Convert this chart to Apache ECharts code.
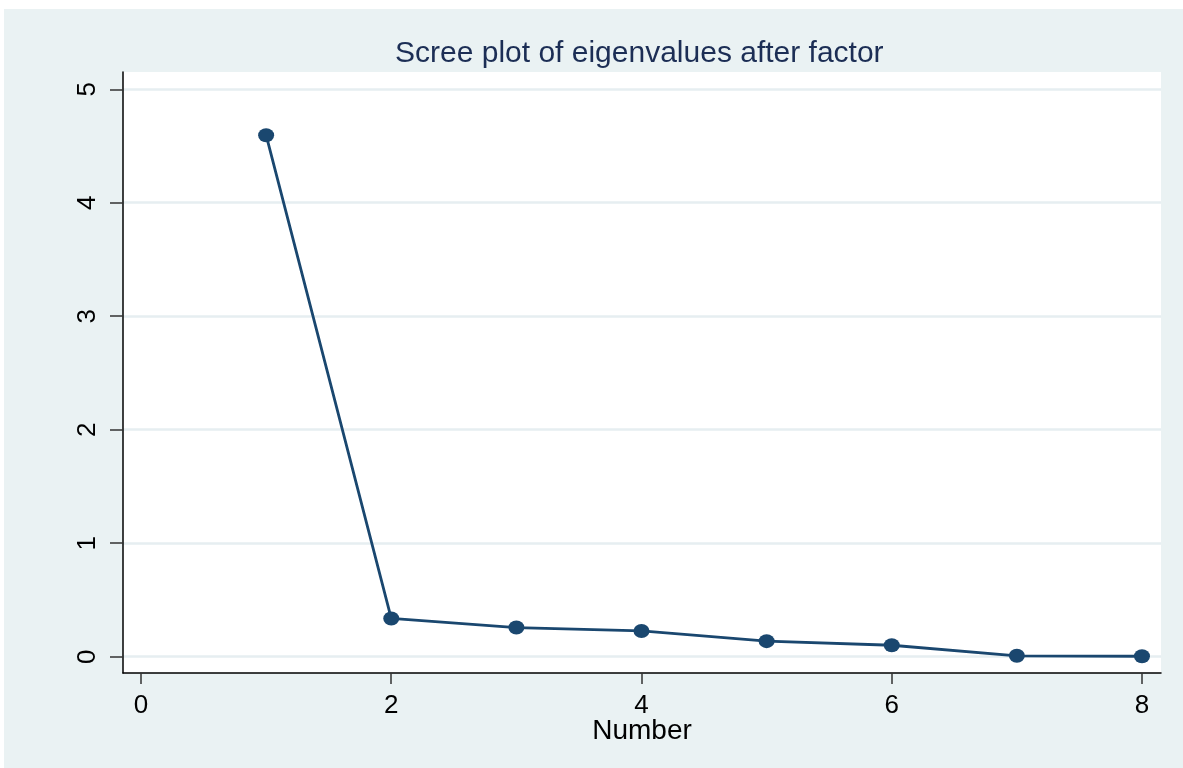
<!DOCTYPE html>
<html>
<head>
<meta charset="utf-8">
<script src="https://cdn.jsdelivr.net/npm/echarts@6/dist/echarts.min.js"></script>
<style>
  html, body { margin: 0; padding: 0; background: #ffffff; width: 1183px; height: 768px; overflow: hidden; }
  #chart { position: absolute; left: 4px; top: 9px; width: 1179px; height: 759px; }
</style>
</head>
<body>
<div id="chart"></div>
<script>
// Data
const numbers = [1, 2, 3, 4, 5, 6, 7, 8];
const eigenvalues = [4.595, 0.337, 0.257, 0.227, 0.137, 0.101, 0.008, 0.004];
const xTicks = [0, 2, 4, 6, 8];
const yTicks = [0, 1, 2, 3, 4, 5];
const titleText = 'Scree plot of eigenvalues after factor';
const xName = 'Number';

const seriesData = numbers.map((n, i) => [n, eigenvalues[i]]);

const chart = echarts.init(document.getElementById('chart'), null, { renderer: 'canvas' });
const font = 'Liberation Sans, Arial, sans-serif';
chart.setOption({
  backgroundColor: '#EAF2F3',
  animation: false,
  title: {
    text: titleText,
    left: 391,
    top: 30,
    padding: 0,
    textStyle: { fontFamily: font, fontSize: 30, fontWeight: 'normal', color: '#1c2e55' }
  },
  grid: {
    left: 119, right: 22, top: 63, bottom: 95,
    show: true, backgroundColor: '#ffffff', borderWidth: 0
  },
  xAxis: {
    type: 'value',
    min: -0.1439, max: 8.152,
    name: xName,
    nameLocation: 'middle',
    nameGap: 44,
    nameMoveOverlap: false,
    nameTextStyle: { fontFamily: font, fontSize: 28, color: '#000' },
    axisLine: { show: true, onZero: false, lineStyle: { color: '#000', width: 1.5 } },
    axisTick: { show: true, length: 11, customValues: xTicks, lineStyle: { color: '#333', width: 1.5 } },
    axisLabel: { customValues: xTicks, margin: 20, fontFamily: font, fontSize: 26, color: '#000' },
    splitLine: { show: false }
  },
  yAxis: {
    type: 'value',
    min: -0.1436, max: 5.152,
    axisLine: { show: true, onZero: false, lineStyle: { color: '#000', width: 1.5 } },
    axisTick: { show: true, length: 13, customValues: yTicks, lineStyle: { color: '#333', width: 1.5 } },
    axisLabel: { customValues: yTicks, rotate: 90, margin: 22, fontFamily: font, fontSize: 26, color: '#000' },
    splitLine: { show: true, lineStyle: { color: '#E6EEF1', width: 2.5 } }
  },
  series: [{
    type: 'line',
    data: seriesData,
    symbol: 'circle',
    symbolSize: [16, 14],
    lineStyle: { color: '#1a476f', width: 2.8 },
    itemStyle: { color: '#1a476f' },
    z: 3
  }]
});
</script>
</body>
</html>
